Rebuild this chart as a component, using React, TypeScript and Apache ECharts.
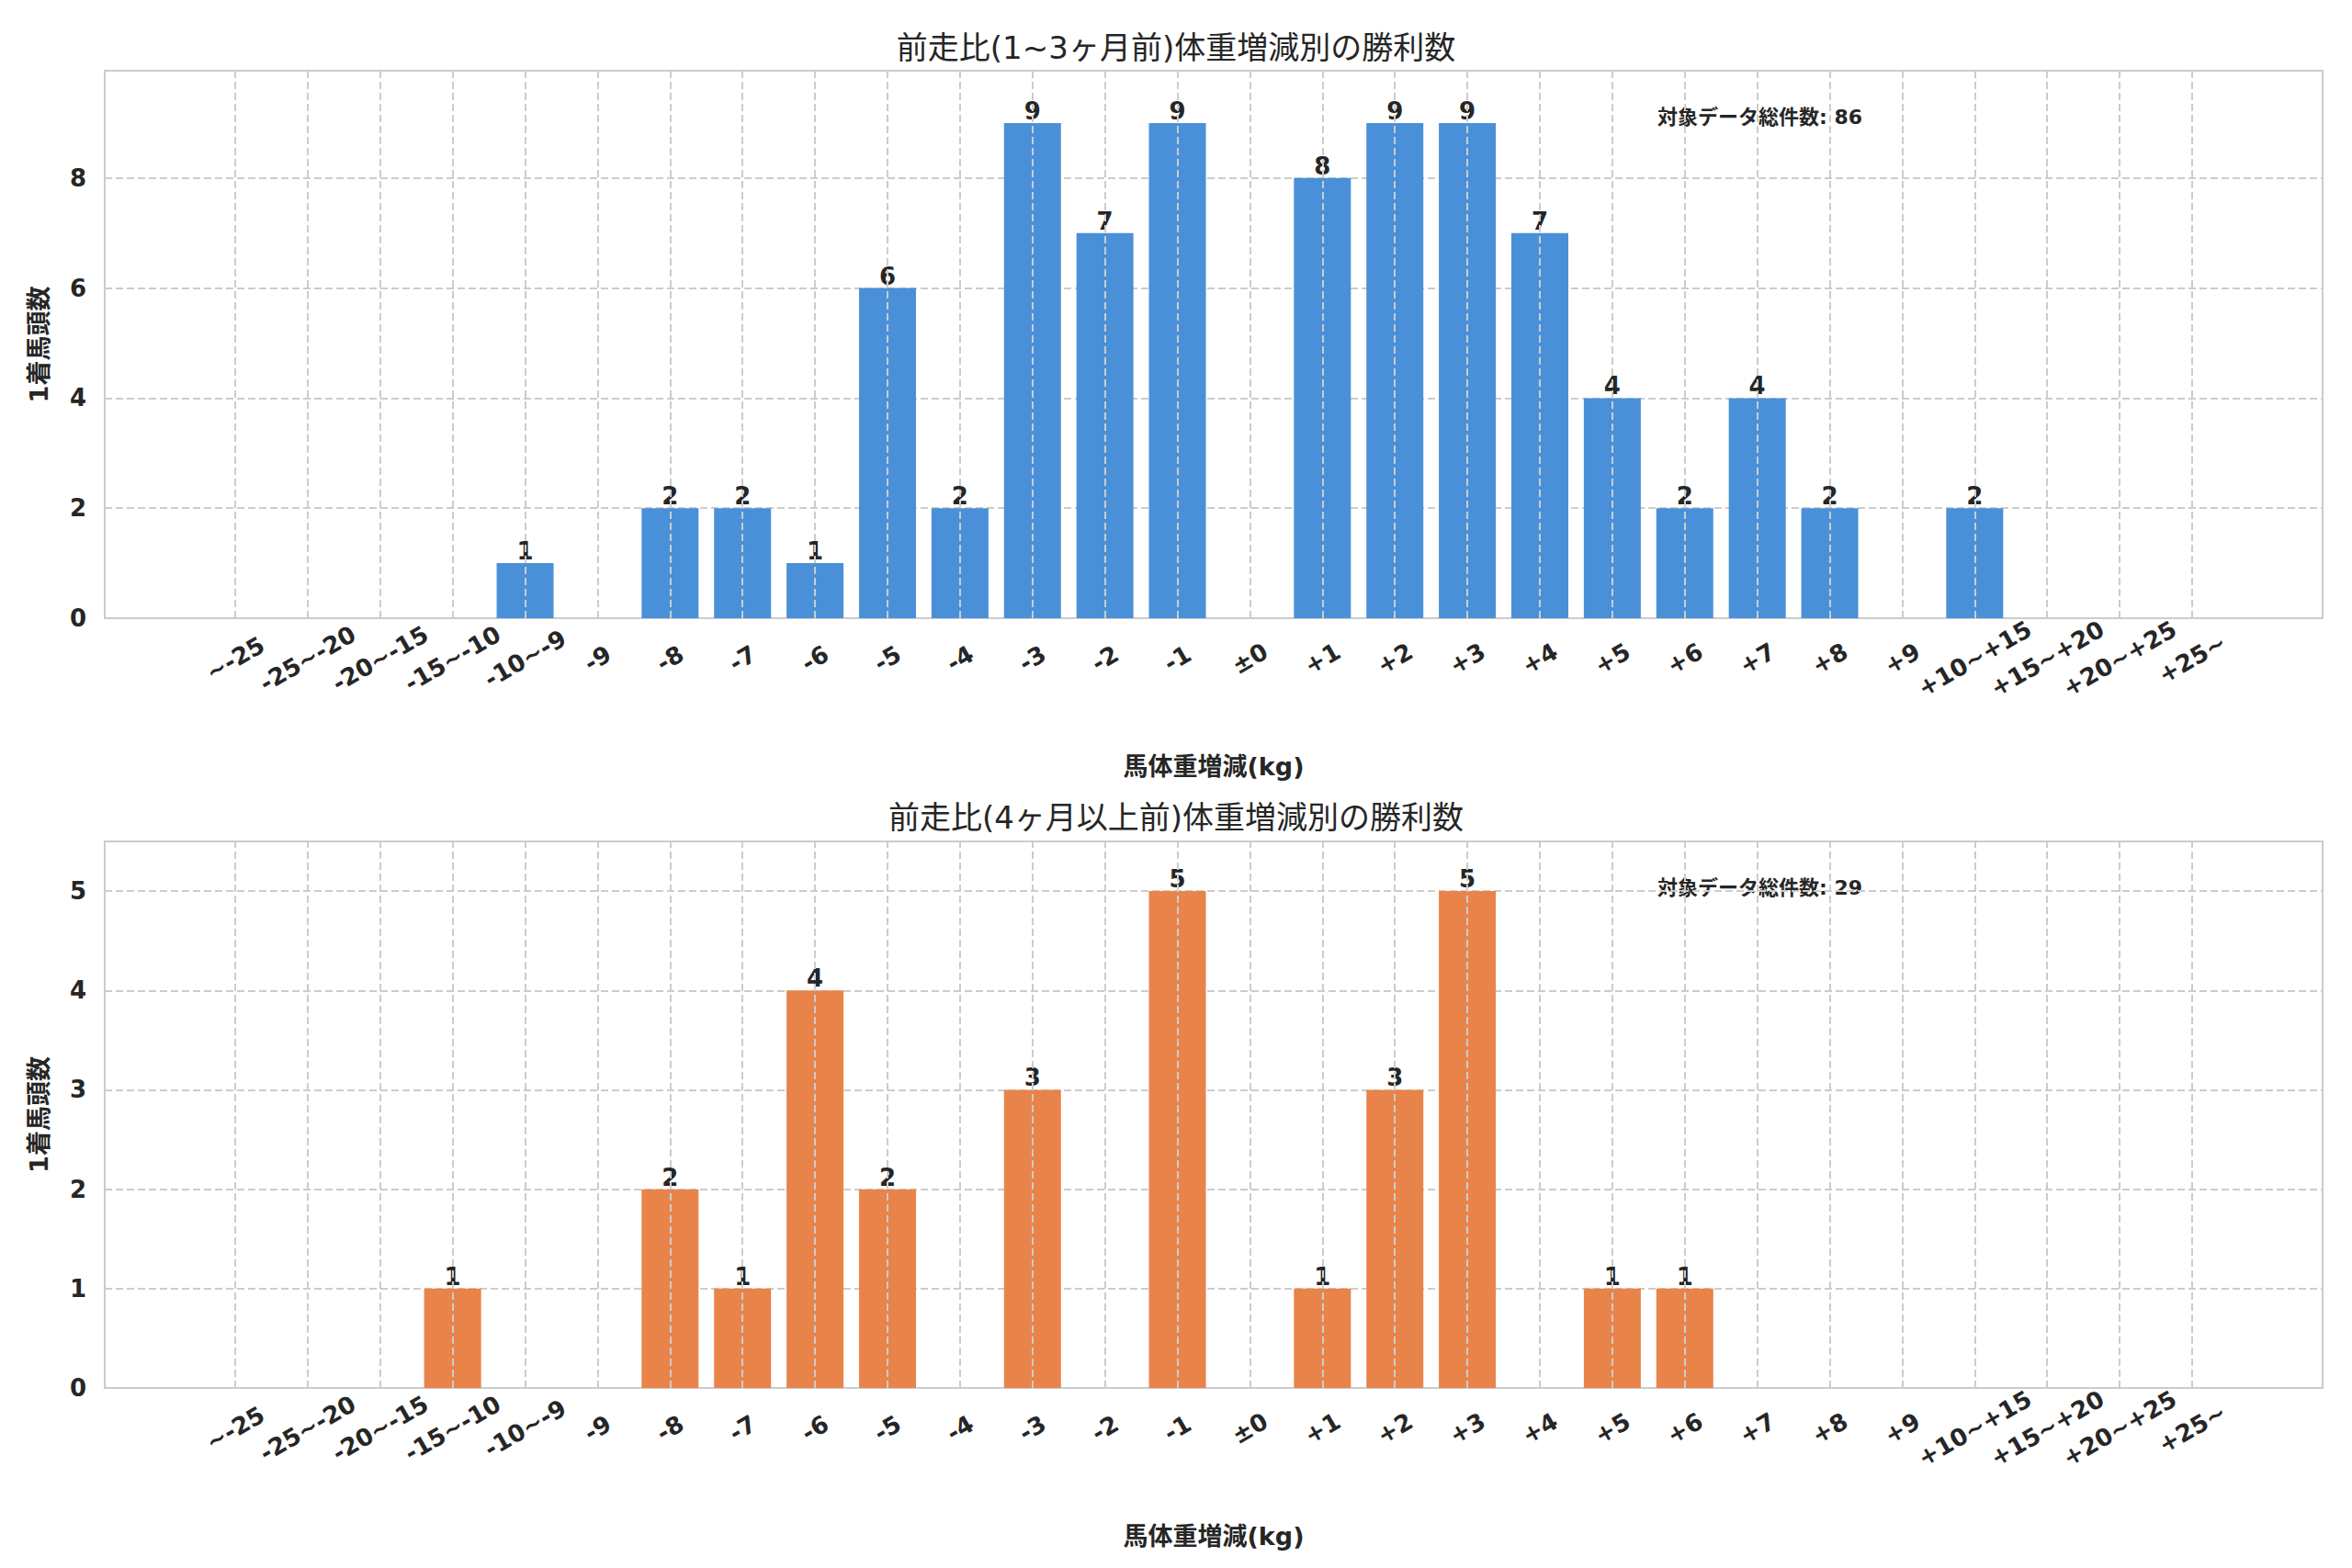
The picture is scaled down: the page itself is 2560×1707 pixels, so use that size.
import React, { useEffect, useRef } from "react";
import * as echarts from "echarts";

const categories = ["~-25","-25~-20","-20~-15","-15~-10","-10~-9","-9","-8","-7","-6","-5","-4","-3","-2","-1","±0","+1","+2","+3","+4","+5","+6","+7","+8","+9","+10~+15","+15~+20","+20~+25","+25~"];
const shortValues = [0,0,0,0,1,0,2,2,1,6,2,9,7,9,0,8,9,9,7,4,2,4,2,0,2,0,0,0];
const longValues = [0,0,0,1,0,0,2,1,4,2,0,3,0,5,0,1,3,5,0,1,1,0,0,0,0,0,0,0];
const titles = ["前走比(1~3ヶ月前)体重増減別の勝利数", "前走比(4ヶ月以上前)体重増減別の勝利数"];
const totals = [86, 29];
const FONT = "'DejaVu Sans', 'Noto Sans CJK JP', sans-serif";
const TXT = "#262626";

export default function App() {
  const ref = useRef<HTMLDivElement>(null);
  useEffect(() => {
    document.body.style.margin = "0";
    const chart = echarts.init(ref.current!, null, { renderer: "svg" });
    const idx = categories.map((_, i) => i);
    const grids = [
      { left: 114, width: 2414, top: 77, height: 596 },
      { left: 114, width: 2414, top: 916, height: 595 },
    ];
    const mkX = (g: number) => ({
      type: "value", gridIndex: g, min: -1.8, max: 28.8,
      axisLine: { show: false }, axisTick: { show: false }, splitLine: { show: false },
      axisLabel: {
        customValues: idx, formatter: (v: number) => categories[v] ?? "",
        rotate: 30, align: "center", verticalAlign: "middle", margin: 44,
        fontSize: 26, fontWeight: "bold", color: TXT, fontFamily: FONT,
      },
      name: "馬体重増減(kg)", nameLocation: "middle", nameGap: 148,
      nameTextStyle: { fontSize: 27, fontWeight: "bold", color: TXT, fontFamily: FONT },
    });
    const mkY = (g: number, max: number, interval: number) => ({
      type: "value", gridIndex: g, min: 0, max, interval,
      axisLine: { show: false }, axisTick: { show: false },
      axisLabel: { showMaxLabel: false, fontSize: 26, fontWeight: "bold", color: TXT, fontFamily: FONT, margin: 20 },
      splitLine: { lineStyle: { color: "#cccccc", type: [8, 4], width: 2 } },
      name: "1着馬頭数", nameLocation: "middle", nameGap: 58,
      nameTextStyle: { fontSize: 27, fontWeight: "bold", color: TXT, fontFamily: FONT },
    });
    const mkBar = (g: number, vals: number[], color: string) => ({
      type: "bar", xAxisIndex: g, yAxisIndex: g, z: 3,
      data: vals.map((v, i) => [i, v]), barWidth: 62,
      itemStyle: { color },
      label: {
        show: true, position: "top", distance: 0,
        formatter: (p: any) => (p.value[1] > 0 ? String(p.value[1]) : ""),
        fontSize: 26, fontWeight: "bold", color: TXT, fontFamily: FONT,
      },
    });
    const mkGridLines = (g: number) => ({
      type: "line", xAxisIndex: g, yAxisIndex: g, data: [], z: 1,
      markLine: {
        silent: true, symbol: "none", label: { show: false },
        lineStyle: { color: "#cccccc", type: [8, 4], width: 2 },
        data: idx.map((i) => ({ xAxis: i })),
      },
    });
    chart.setOption({
      animation: false,
      backgroundColor: "#ffffff",
      title: titles.map((t, i) => ({
        text: t, left: "center", top: i === 0 ? 30 : 868,
        textStyle: { fontSize: 34, fontWeight: "normal", color: TXT, fontFamily: FONT },
      })),
      grid: grids.map((g) => ({ ...g, show: true, borderColor: "#cccccc", borderWidth: 2, backgroundColor: "transparent" })),
      xAxis: [mkX(0), mkX(1)],
      yAxis: [mkY(0, 9.95, 2), mkY(1, 5.5, 1)],
      series: [
        mkGridLines(0), mkGridLines(1),
        mkBar(0, shortValues, "#4a90d9"),
        mkBar(1, longValues, "#e8844a"),
      ],
      graphic: totals.map((t, i) => ({
        type: "text", left: 1804, top: i === 0 ? 116 : 955,
        style: { text: `対象データ総件数: ${t}`, fontSize: 22, fontWeight: "bold", fill: TXT, fontFamily: FONT },
      })),
    });
    return () => chart.dispose();
  }, []);
  return <div ref={ref} style={{ width: 2560, height: 1707 }} />;
}
